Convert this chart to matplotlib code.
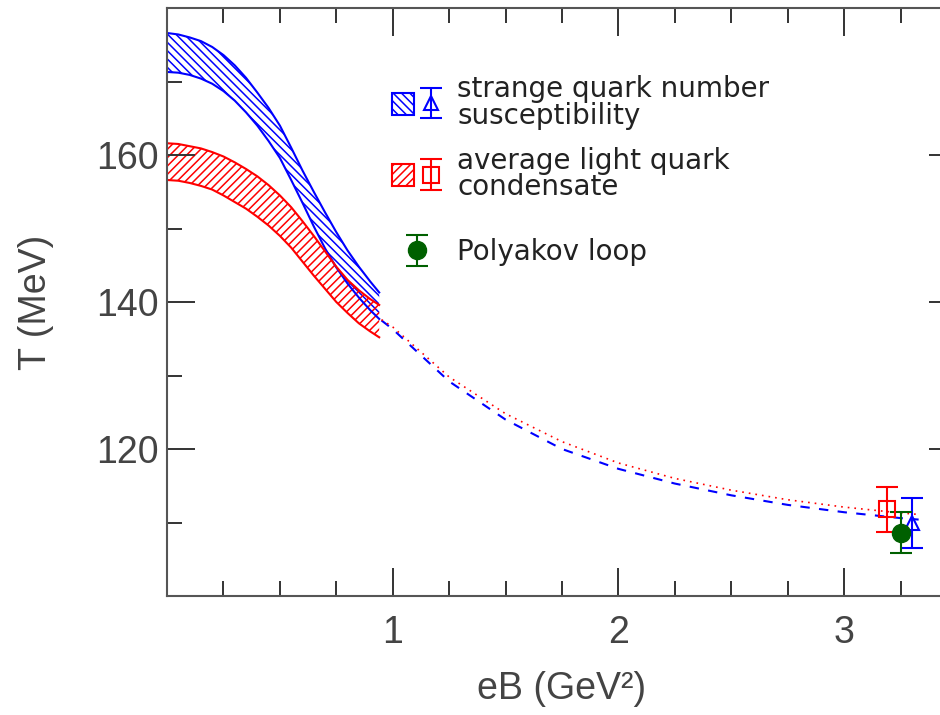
import matplotlib
matplotlib.use('Agg')
import matplotlib.pyplot as plt
from matplotlib.ticker import MultipleLocator
from matplotlib.patches import Patch
from matplotlib.legend_handler import HandlerTuple, HandlerErrorbar
from matplotlib.container import ErrorbarContainer

plt.rcParams['font.family'] = ['Liberation Sans', 'DejaVu Sans']
plt.rcParams['hatch.linewidth'] = 1.1

# transition bands below eB = 1 GeV^2
band_x = [0.0, 0.05, 0.1, 0.15, 0.2, 0.25, 0.3, 0.35, 0.4, 0.45, 0.5,
          0.55, 0.6, 0.65, 0.7, 0.75, 0.8, 0.85, 0.9, 0.94]
chi_hi = [176.6, 176.4, 176.0, 175.5, 174.7, 173.6, 172.2, 170.5, 168.5, 166.4, 164.0,
          161.0, 157.9, 155.0, 152.2, 149.5, 147.0, 144.8, 142.8, 141.3]
chi_lo = [171.3, 171.2, 170.9, 170.4, 169.7, 168.7, 167.4, 165.8, 164.0, 161.9, 159.6,
          156.6, 153.5, 150.3, 147.3, 144.7, 142.5, 140.6, 138.9, 137.7]
pbp_hi = [161.6, 161.5, 161.2, 160.9, 160.4, 159.8, 159.0, 158.1, 157.1, 155.9, 154.5,
          152.9, 151.0, 149.0, 146.9, 144.8, 143.0, 141.6, 140.4, 139.6]
pbp_lo = [156.6, 156.5, 156.2, 155.8, 155.3, 154.5, 153.6, 152.7, 151.6, 150.4, 149.0,
          147.4, 145.5, 143.6, 141.8, 140.0, 138.5, 137.1, 136.0, 135.2]

# extrapolation towards the strong field point
ext_x = [0.95, 1.0, 1.25, 1.5, 1.75, 2.0, 2.25, 2.5, 2.75, 3.0, 3.25, 3.33]
chi_ext = [137.5, 136.3, 129.2, 124.0, 120.0, 117.3, 115.3, 113.7, 112.4, 111.4, 110.6, 110.4]
pbp_ext = [137.6, 136.6, 129.8, 124.8, 121.0, 118.1, 116.0, 114.4, 113.1, 112.1, 111.3, 111.1]

# results at eB = 3.25 GeV^2
chi_pt = (3.30, 109.9, 3.4)
pbp_pt = (3.19, 111.8, 3.1)
ploop_pt = (3.25, 108.6, 2.8)

blue = '#0000ff'
red = '#ff0000'
green = '#006000'

fig = plt.figure(figsize=(9.4, 7.15), dpi=100)
ax = fig.add_axes([0.1777, 0.1664, 0.8404, 0.8224])

ax.fill_between(band_x, chi_lo, chi_hi, facecolor='none', edgecolor=blue,
                hatch='\\\\\\\\', linewidth=0)
ax.plot(band_x, chi_hi, color=blue, lw=1.5)
ax.plot(band_x, chi_lo, color=blue, lw=1.5)

ax.fill_between(band_x, pbp_lo, pbp_hi, facecolor='none', edgecolor=red,
                hatch='////', linewidth=0)
ax.plot(band_x, pbp_hi, color=red, lw=1.5)
ax.plot(band_x, pbp_lo, color=red, lw=1.5)

ax.plot(ext_x, chi_ext, color=blue, lw=1.5, ls=(0, (4.5, 4.5)))
ax.plot(ext_x, pbp_ext, color=red, lw=1.2, ls=(0, (1, 3)))

eb_pbp = ax.errorbar(pbp_pt[0], pbp_pt[1], yerr=pbp_pt[2], fmt='s', color=red,
                     mfc='none', mew=1.5, ms=11, elinewidth=1.5, capsize=8, capthick=1.5)
eb_chi = ax.errorbar(chi_pt[0], chi_pt[1], yerr=chi_pt[2], fmt='^', color=blue,
                     mfc='none', mew=1.5, ms=10, elinewidth=1.5, capsize=8, capthick=1.5)
eb_pl = ax.errorbar(ploop_pt[0], ploop_pt[1], yerr=ploop_pt[2], fmt='o', color=green,
                    ms=13, elinewidth=1.5, capsize=8, capthick=1.5)

ax.set_xlim(0, 3.5)
ax.set_ylim(100, 180)
ax.set_xticks([1, 2, 3])
ax.set_yticks([120, 140, 160])
ax.xaxis.set_minor_locator(MultipleLocator(0.25))
ax.yaxis.set_minor_locator(MultipleLocator(10))
ax.tick_params(which='both', direction='in', top=True, right=True,
               color='#333333', width=1.4, labelcolor='#444444', labelsize=27)
ax.tick_params(which='major', length=20)
ax.tick_params(which='minor', length=10.5)
ax.tick_params(axis='x', pad=14)
ax.tick_params(axis='y', pad=6)
for s in ax.spines.values():
    s.set_color('#555555')
    s.set_linewidth(1.5)

ax.set_xlabel('eB (GeV²)', fontsize=27, color='#444444', labelpad=14)
ax.set_ylabel('T (MeV)', fontsize=27, color='#444444', labelpad=30)

# legend
chi_patch = Patch(facecolor='none', edgecolor=blue, hatch='\\\\\\\\', lw=1.5)
pbp_patch = Patch(facecolor='none', edgecolor=red, hatch='////', lw=1.5)
hmap = {tuple: HandlerTuple(ndivide=None, pad=0.25),
        ErrorbarContainer: HandlerErrorbar(yerr_size=0.55)}
lprop = {'family': 'DejaVu Sans', 'size': 20}

leg1 = ax.legend([(chi_patch, eb_chi), (pbp_patch, eb_pbp)],
                 ['strange quark number\nsusceptibility', 'average light quark\ncondensate'],
                 handler_map=hmap, prop=lprop, frameon=False, loc='upper left',
                 bbox_to_anchor=(392 / 940, 1 - 75 / 715), bbox_transform=fig.transFigure,
                 borderpad=0, borderaxespad=0, handlelength=1.8, handleheight=0.85,
                 handletextpad=0.55, labelspacing=0.6, numpoints=1)
for t in leg1.get_texts():
    t.set_linespacing(0.95)
    t.set_color('#222222')
ax.add_artist(leg1)

leg2 = ax.legend([eb_pl], ['Polyakov loop'], handler_map=hmap, prop=lprop,
                 frameon=False, loc='upper left',
                 bbox_to_anchor=(392 / 940, 1 - 238 / 715), bbox_transform=fig.transFigure,
                 borderpad=0, borderaxespad=0, handlelength=1.8,
                 handletextpad=0.55, numpoints=1)
for t in leg2.get_texts():
    t.set_color('#222222')

fig.savefig('out.png', dpi=100)
